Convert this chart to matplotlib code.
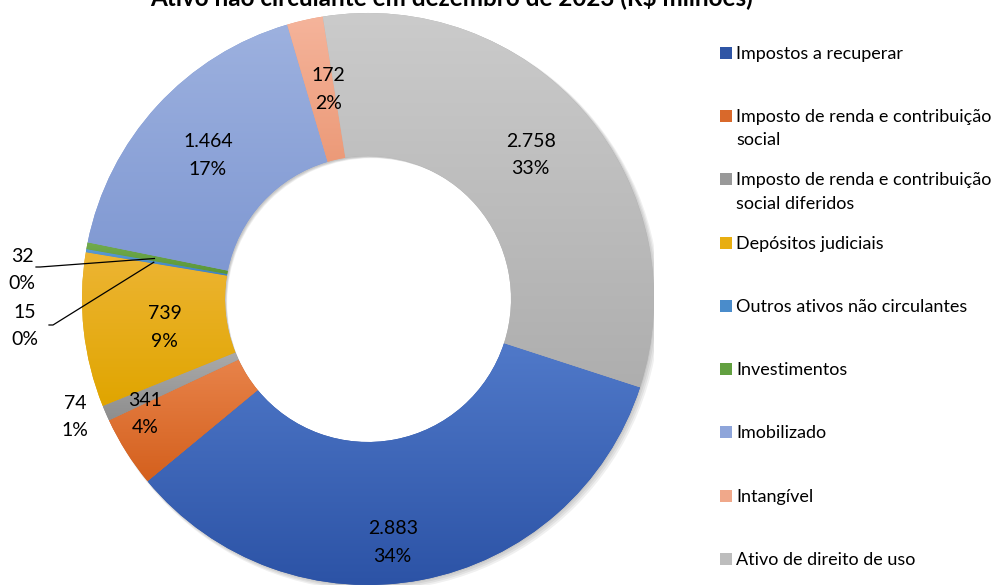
import textwrap
import numpy as np
import matplotlib
matplotlib.use("Agg")
import matplotlib.pyplot as plt
from matplotlib.colors import LinearSegmentedColormap
from matplotlib.patches import Rectangle, Wedge

plt.rcParams['font.family'] = ['Lato', 'DejaVu Sans']

# data
categories = ["Impostos a recuperar",
              "Imposto de renda e contribuição social",
              "Imposto de renda e contribuição social diferidos",
              "Depósitos judiciais",
              "Outros ativos não circulantes",
              "Investimentos",
              "Imobilizado",
              "Intangível",
              "Ativo de direito de uso"]
values = [2883, 341, 74, 739, 15, 32, 1464, 172, 2758]
value_labels = ["2.883", "341", "74", "739", "15", "32", "1.464", "172", "2.758"]
pct_labels = ["34%", "4%", "1%", "9%", "0%", "0%", "17%", "2%", "33%"]

# gradient colours (top, bottom)
grad_top = ["#5079C9", "#E8834A", "#AAAAAA", "#EDB534", "#5B9BD5", "#72AC4D", "#9DB1DF", "#F5B49B", "#CBCBCB"]
grad_bot = ["#2C53A6", "#D4601D", "#8E8E8E", "#E0A500", "#3F82C0", "#5A9637", "#7F98D2", "#EC9A78", "#AEAEAE"]
legend_colors = ["#2F55A5", "#D9692B", "#999999", "#E8AE10", "#4A8CCB", "#62A040", "#8EA5DA", "#F0A88A", "#BDBDBD"]

W, H = 992, 586
fig = plt.figure(figsize=(W / 100, H / 100), dpi=100)

cx, cy, R = 368, 299, 286
ax = fig.add_axes([(cx - R) / W, (H - cy - R) / H, 2 * R / W, 2 * R / H])
ax.set_xlim(-1, 1)
ax.set_ylim(-1, 1)
ax.axis('off')

# soft shadow under the ring
for k in range(4):
    off = (1.0 + k) / R
    ax.add_patch(Wedge((off, -off), 1 + k * 0.6 / R, 0, 360, width=0.5,
                       facecolor='black', alpha=0.06, edgecolor='none', zorder=0))

wedges, _ = ax.pie(values, startangle=-18, counterclock=False, radius=1,
                   colors=grad_bot, wedgeprops=dict(width=0.5, linewidth=0))

for w, c1, c2 in zip(wedges, grad_top, grad_bot):
    ext = w.get_path().get_extents()
    cmap = LinearSegmentedColormap.from_list("g", [c2, c1])
    grad = np.linspace(0, 1, 256).reshape(-1, 1)
    im = ax.imshow(grad, cmap=cmap, origin='lower', aspect='auto',
                   extent=(ext.x0, ext.x1, ext.y0, ext.y1), zorder=2)
    im.set_clip_path(w)
ax.set_xlim(-1, 1)
ax.set_ylim(-1, 1)

# data labels
fs = 14
ls = 1.75
label_r = [0.855, 0.877, None, 0.717, None, None, 0.752, 0.745, 0.76]
label_shift = [-5, -5, 0, 1.7, 0, 0, 0.6, -2, 1]
for i, w in enumerate(wedges):
    mid = np.deg2rad((w.theta1 + w.theta2) / 2 + label_shift[i])
    txt = value_labels[i] + "\n" + pct_labels[i]
    if label_r[i] is not None:
        ax.text(label_r[i] * np.cos(mid), label_r[i] * np.sin(mid), txt,
                ha='center', va='center', fontsize=fs, linespacing=ls, zorder=5)

# outside labels
def px(x, y):
    return (x - cx) / R, (cy - y) / R

i = 2
ax.text(*px(75, 417), value_labels[i] + "\n" + pct_labels[i], ha='center', va='center',
        fontsize=fs, linespacing=ls, clip_on=False)

for i, tx, ty, lx, ly in [(5, 22, 270, 40, 267), (4, 25, 326, 53, 325)]:
    mid = np.deg2rad((wedges[i].theta1 + wedges[i].theta2) / 2)
    ex, ey = 0.76 * np.cos(mid), 0.76 * np.sin(mid)
    sx, sy = px(lx, ly)
    ax.plot([sx - 4 / R, sx, ex], [sy, sy, ey], color='black', lw=0.9, zorder=6, clip_on=False)
    ax.text(*px(tx, ty), value_labels[i] + "\n" + pct_labels[i], ha='center', va='center',
            fontsize=fs, linespacing=ls, clip_on=False)

# title (partly cut at the top, as in the reference)
fig.text(452 / W, 1 - 5 / H, "Ativo não circulante em dezembro de 2023 (R$ milhões)",
         ha='center', va='baseline', fontsize=17.5, fontweight='bold')

# legend
ly0, dy = 52.7, 63.3
for k, name in enumerate(categories):
    y = ly0 + k * dy
    fig.add_artist(Rectangle((720 / W, 1 - (y + 6) / H), 12 / W, 12 / H,
                             facecolor=legend_colors[k], edgecolor='none',
                             transform=fig.transFigure))
    fig.text(736.5 / W, 1 - (y - 7) / H, textwrap.fill(name, 31), ha='left', va='top',
             fontsize=13, linespacing=1.57)

fig.savefig("out.png", dpi=100)
